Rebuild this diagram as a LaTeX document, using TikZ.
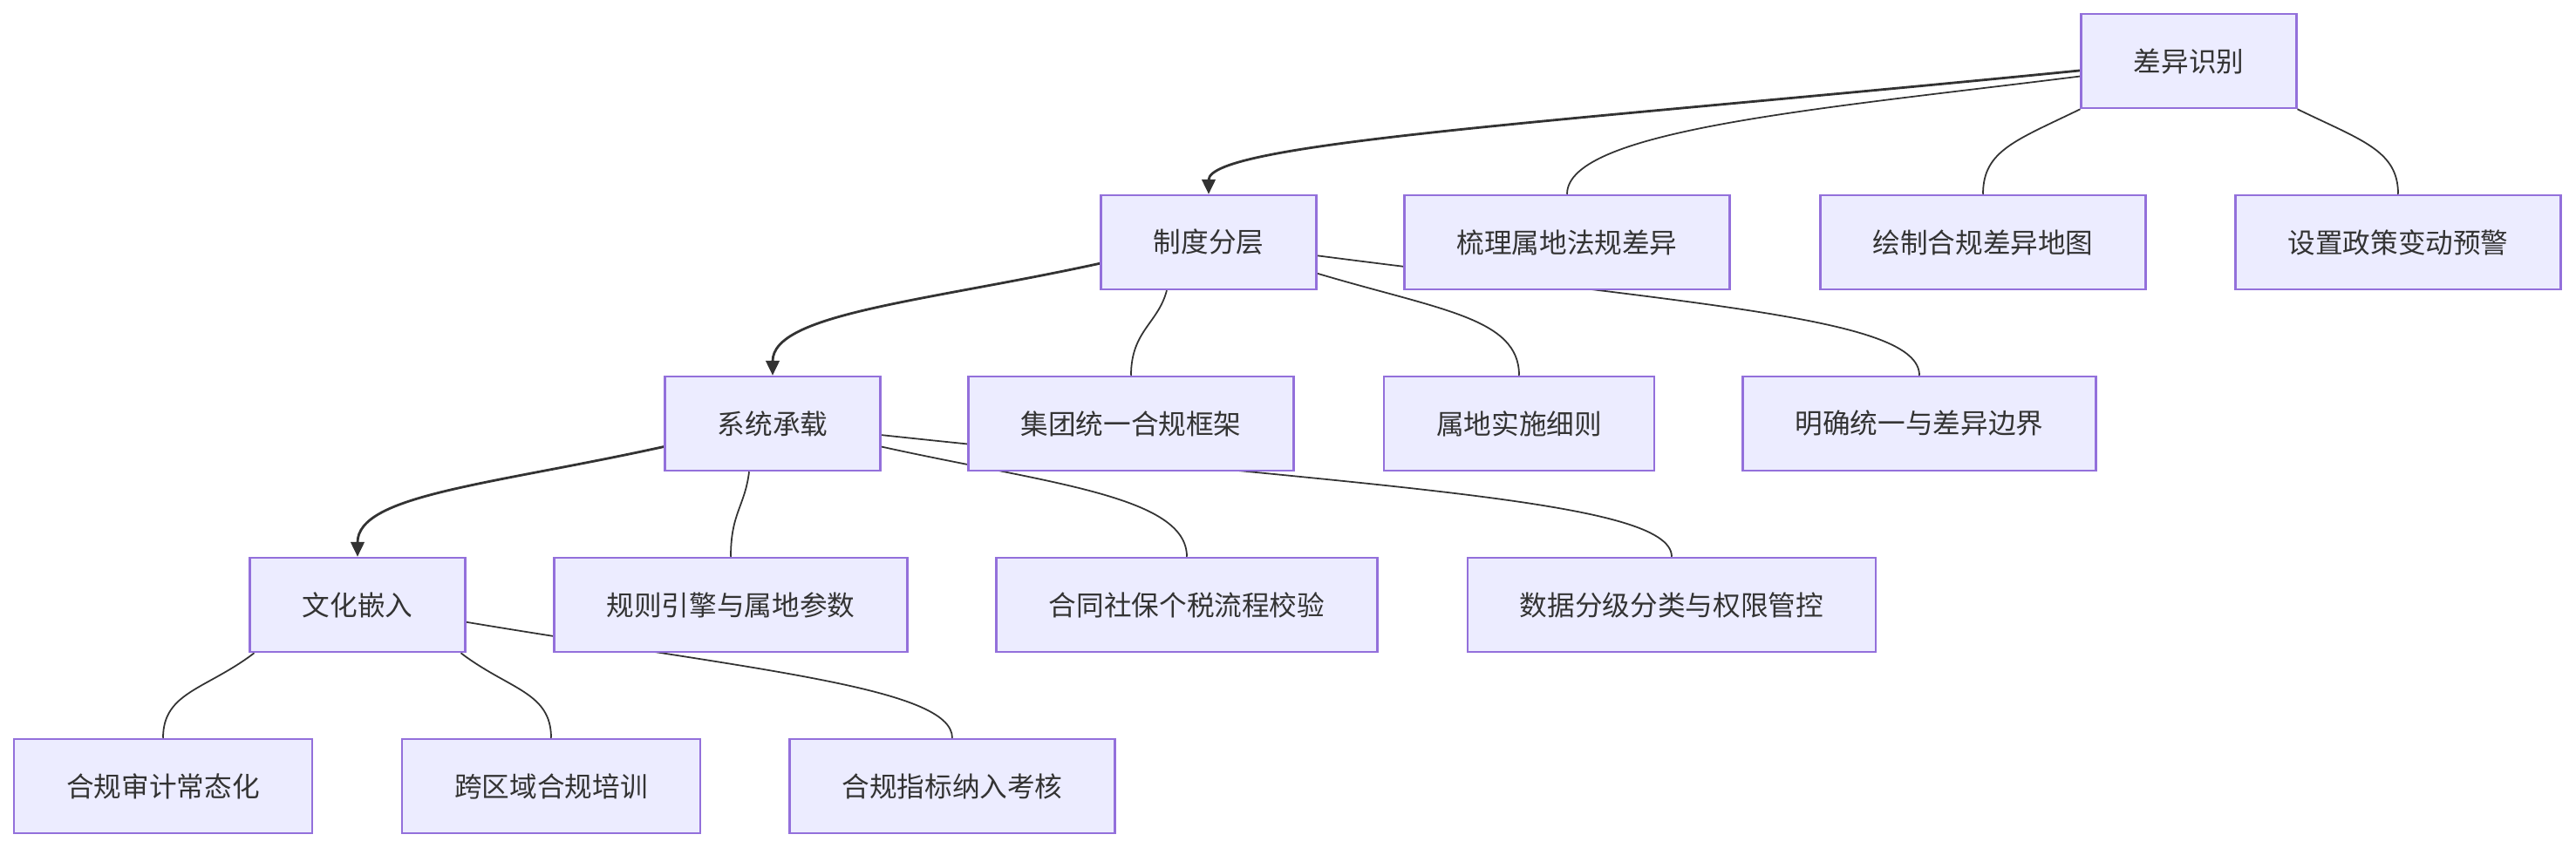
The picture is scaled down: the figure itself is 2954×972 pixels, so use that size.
\documentclass[tikz,border=0pt]{standalone}
\usepackage{fontspec}
\setmainfont{Noto Sans CJK SC}
\usepackage{xcolor}
\usepackage{tikz}
\usetikzlibrary{arrows.meta}
\definecolor{boxfill}{HTML}{ECECFF}
\definecolor{boxline}{HTML}{9370DB}
\definecolor{edgec}{HTML}{333333}
\pgfdeclarelayer{bg}
\pgfsetlayers{bg,main}

\begin{document}
\begin{tikzpicture}[x=0.01cm, y=-0.01cm,
  box/.style={draw=boxline, fill=boxfill, line width=0.7pt, minimum height=1.08cm,
    inner xsep=0.6cm, text=edgec, font=\fontsize{9}{11}\selectfont},
  link/.style={draw=edgec, line width=0.5pt},
  flow/.style={draw=edgec, line width=0.8pt, -{Triangle[length=4.8pt,width=4.4pt]}}]
\useasboundingbox (0,0) rectangle (2954,972);

% Level 0
\node[box] (cy) at (2510,70) {差异识别};

% Level 1
\node[box] (zd) at (1386,278) {制度分层};
\foreach \nm/\x/\lbl in {sl/1797/梳理属地法规差异, hz/2274/绘制合规差异地图, sz/2750/设置政策变动预警}
  \node[box] (\nm) at (\x,278) {\lbl};

% Level 2
\node[box] (xt) at (886,486) {系统承载};
\foreach \nm/\x/\lbl in {jt/1297/集团统一合规框架, ss/1742/属地实施细则, mq/2201/明确统一与差异边界}
  \node[box] (\nm) at (\x,486) {\lbl};

% Level 3
\node[box] (wh) at (410,694) {文化嵌入};
\foreach \nm/\x/\lbl in {gz/838/规则引擎与属地参数, ht/1361/合同社保个税流程校验, sj/1917/数据分级分类与权限管控}
  \node[box] (\nm) at (\x,694) {\lbl};

% Level 4
\foreach \nm/\x/\lbl in {sjh/187/合规审计常态化, kq/632/跨区域合规培训, zb/1092/合规指标纳入考核}
  \node[box] (\nm) at (\x,902) {\lbl};

\begin{pgfonlayer}{bg}
% main chain
\draw[flow] (cy.185) .. controls +(-594,59) and +(0,-59) .. (zd.north);
\draw[flow] (zd.191) .. controls +(-202,44) and +(0,-71) .. (xt.north);
\draw[flow] (xt.192) .. controls +(-200,44) and +(0,-71) .. (wh.north);

% branches
\draw[link] (cy.188) .. controls +(-294,37) and +(0,-74) .. (sl.north);
\draw[link] (cy.south west) .. controls +(-74,36) and +(0,-50) .. (hz.north);
\draw[link] (cy.south east) .. controls +(74,36) and +(0,-50) .. (sz.north);
\draw[link] (zd.229) .. controls +(-10,38) and +(0,-51) .. (jt.north);
\draw[link] (zd.344) .. controls +(141,42) and +(0,-66) .. (ss.north);
\draw[link] (zd.353) .. controls +(441,57) and +(0,-66) .. (mq.north);
\draw[link] (xt.244) .. controls +(-5,40) and +(0,-50) .. (gz.north);
\draw[link] (xt.348) .. controls +(190,42) and +(0,-70) .. (ht.north);
\draw[link] (xt.354) .. controls +(560,60) and +(0,-66) .. (sj.north);
\draw[link] (wh.205) .. controls +(-55,42) and +(0,-53) .. (sjh.north);
\draw[link] (wh.335) .. controls +(55,42) and +(0,-53) .. (kq.north);
\draw[link] (wh.351) .. controls +(330,55) and +(0,-58) .. (zb.north);
\end{pgfonlayer}
\end{tikzpicture}
\end{document}
